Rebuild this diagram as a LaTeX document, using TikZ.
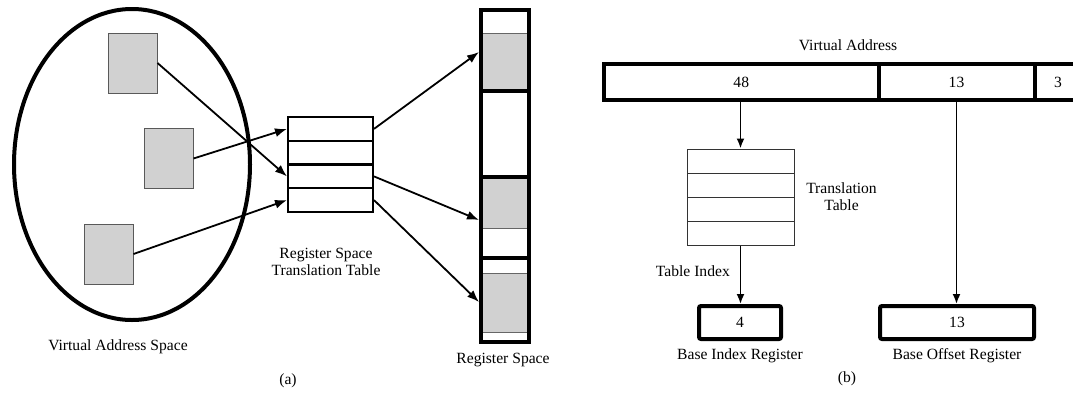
\documentclass[tikz,border=0pt]{standalone}
\usepackage{fontspec}
\setmainfont{Liberation Serif}
\usetikzlibrary{shapes.geometric,arrows.meta,calc}
\begin{document}
\begin{tikzpicture}[x=1pt,y=-1pt,
  lbl/.style={font=\fontsize{15.6pt}{17pt}\selectfont, inner sep=0pt, align=center},
  page/.style={draw=black!65, line width=1pt, fill=black!18, minimum width=49pt, minimum height=60pt, inner sep=0pt},
  rowa/.style={draw, line width=2pt, minimum width=85pt, minimum height=23.75pt, inner sep=0pt},
  seg/.style={inner sep=0pt, outer sep=0pt, minimum width=48pt},
  grayseg/.style={seg, fill=black!18},
  rowb/.style={draw=black!80, line width=1pt, minimum width=107pt, minimum height=24pt, inner sep=0pt},
  cell/.style={draw, line width=4pt, minimum height=36pt, inner sep=0pt, font=\fontsize{15.6pt}{17pt}\selectfont},
  reg/.style={draw, line width=4pt, rounded corners=2pt, minimum height=33pt, inner sep=0pt, font=\fontsize{15.6pt}{17pt}\selectfont},
  arra/.style={line width=1.8pt, -{Latex[length=12pt,width=9pt]}},
  arrb/.style={line width=1.8pt, -{Latex[length=10pt,width=8pt]}},
  thinsep/.style={line width=1pt, draw=black!60},
  thicksep/.style={line width=4pt},
]
\useasboundingbox (0,0) rectangle (1073,394);

% ---------- (a) ----------
\node[draw, ellipse, line width=4pt, minimum width=236pt, minimum height=311pt, inner sep=0pt] (vas) at (132,164.5) {};
\node[page] (sq1) at (132.5,63) {};
\node[page] (sq2) at (168.5,158.5) {};
\node[page] (sq3) at (108.5,254) {};
\node[lbl] (vaslbl) at (118,347) {Virtual Address Space};

\node[rowa] (ta1) at (330.5,128.9) {};
\node[rowa] (ta2) at (330.5,152.6) {};
\node[rowa] (ta3) at (330.5,176.4) {};
\node[rowa] (ta4) at (330.5,200.1) {};
\node[lbl] (talbl) at (326,262) {Register Space\\Translation Table};

\node[seg] (rs0) at (505,21.25) [minimum height=23.5pt] {};
\node[grayseg] (rs1) at (505,62) [minimum height=58pt] {};
\node[seg] (rs2) at (505,134) [minimum height=86pt] {};
\node[grayseg] (rs3) at (505,202.5) [minimum height=51pt] {};
\node[seg] (rs4) at (505,243) [minimum height=30pt] {};
\node[seg] (rs5) at (505,265.5) [minimum height=15pt] {};
\node[grayseg] (rs6) at (505,302.5) [minimum height=59pt] {};
\node[seg] (rs7) at (505,337) [minimum height=10pt] {};
\draw[thinsep] (rs1.north west) -- (rs1.north east);
\draw[thinsep] (rs3.south west) -- (rs3.south east);
\draw[thinsep] (rs6.north west) -- (rs6.north east);
\draw[thinsep] (rs6.south west) -- (rs6.south east);
\draw[thicksep] (rs1.south west) -- (rs1.south east);
\draw[thicksep] (rs2.south west) -- (rs2.south east);
\draw[thicksep] (rs4.south west) -- (rs4.south east);
\draw[line width=4pt] (rs0.north west) rectangle (rs7.south east);
\node[lbl] (rslbl) at (503,360) {Register Space};
\node[lbl] (alabel) at (288,381) {(a)};

\draw[arra] (sq1.east) -- (ta3.west);
\draw[arra] (sq2.east) -- (ta1.west);
\draw[arra] (sq3.east) -- (ta4.west);
\draw[arra] (ta1.east) -- ($(rs1.west)+(-2,-10)$);
\draw[arra] (ta3.east) -- ($(rs3.west)+(-2,17.5)$);
\draw[arra] (ta4.east) -- ($(rs6.west)+(-2,-0.5)$);

% ---------- (b) ----------
\node[lbl] (valbl) at (848,45) {Virtual Address};
\node[cell, minimum width=274.5pt] (c48) at (741.25,82) {48};
\node[cell, minimum width=156pt] (c13) at (956.5,82) {13};
\node[cell, minimum width=47pt] (c3) at (1058,82) {3};

\node[rowb] (tb1) at (740.5,161) {};
\node[rowb] (tb2) at (740.5,185) {};
\node[rowb] (tb3) at (740.5,209) {};
\node[rowb] (tb4) at (740.5,233) {};
\node[lbl] (tblbl) at (841.5,196.5) {Translation\\Table};

\node[reg, minimum width=82pt] (bir) at (740,322.5) {4};
\node[reg, minimum width=154pt] (bor) at (957,322.5) {13};
\node[lbl] (birlbl) at (740,356) {Base Index Register};
\node[lbl] (borlbl) at (957,356) {Base Offset Register};
\node[lbl, anchor=east] (tilbl) at (730,271) {Table Index};
\node[lbl] (blabel) at (847,379) {(b)};

\draw[arrb] (c48.south -| tb1.north) -- (tb1.north);
\draw[arrb] (tb4.south) -- (tb4.south |- bir.north);
\draw[arrb] (c13.south) -- (c13.south |- bor.north);
\end{tikzpicture}
\end{document}
